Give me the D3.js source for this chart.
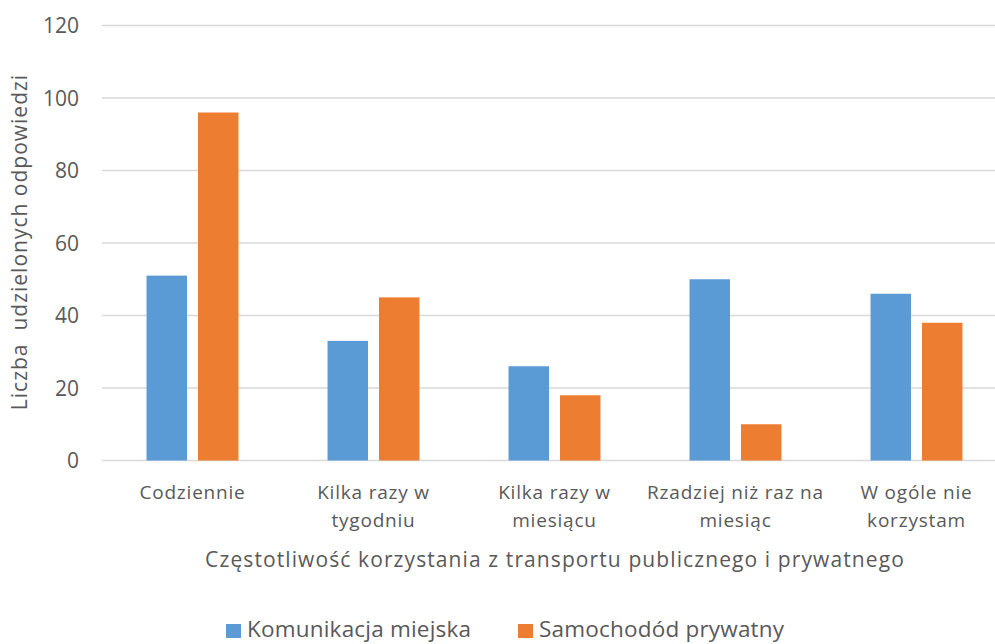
<!DOCTYPE html>
<html lang="pl">
<head>
<meta charset="UTF-8">
<title>Częstotliwość korzystania z transportu</title>
<style>
  body { margin: 0; background: #fff; }
  svg text { font-family: "Open Sans", "Noto Sans", sans-serif; fill: #595959; }
</style>
</head>
<body>
<div id="chart"></div>
<script src="https://d3js.org/d3.v7.min.js"></script>
<script>
// data
var categories = [
  ["Codziennie"],
  ["Kilka razy w", "tygodniu"],
  ["Kilka razy w", "miesiącu"],
  ["Rzadziej niż raz na", "miesiąc"],
  ["W ogóle nie", "korzystam"]
];
var seriesNames = ["Komunikacja miejska", "Samochodód prywatny"];
var komunikacja = [51, 33, 26, 50, 46];
var samochod = [96, 45, 18, 10, 38];
var yTicks = [0, 20, 40, 60, 80, 100, 120];
var colors = ["#5B9BD5", "#ED7D31"];

var width = 995, height = 644;
var plotLeft = 102, plotRight = 1007, plotTop = 25.5, plotBottom = 460.5;

var svg = d3.select("#chart").append("svg")
  .attr("width", width)
  .attr("height", height);

var catKeys = categories.map(function (c) { return c.join(" "); });

var x0 = d3.scaleBand().domain(catKeys).range([plotLeft, plotRight]).padding(0);
var x1 = d3.scaleBand().domain(seriesNames).range([0, x0.bandwidth()])
  .paddingInner(0.214).paddingOuter(0.865);
var y = d3.scaleLinear().domain([0, 120]).range([plotBottom, plotTop]);

// gridlines
svg.append("g")
  .selectAll("line")
  .data(yTicks)
  .join("line")
  .attr("x1", plotLeft)
  .attr("x2", width)
  .attr("y1", function (d) { return y(d); })
  .attr("y2", function (d) { return y(d); })
  .attr("stroke", "#d9d9d9")
  .attr("stroke-width", 1.3);

// y tick labels
svg.append("g")
  .selectAll("text")
  .data(yTicks)
  .join("text")
  .attr("x", 79)
  .attr("y", function (d) { return y(d); })
  .attr("dy", "0.36em")
  .attr("text-anchor", "end")
  .style("font-size", "21px")
  .text(function (d) { return d; });

// bars
var rows = catKeys.map(function (k, i) {
  return { key: k, vals: [komunikacja[i], samochod[i]] };
});

var groups = svg.append("g")
  .selectAll("g")
  .data(rows)
  .join("g")
  .attr("transform", function (d) { return "translate(" + x0(d.key) + ",0)"; });

groups.selectAll("rect")
  .data(function (d) { return d.vals.map(function (v, j) { return { s: seriesNames[j], v: v, j: j }; }); })
  .join("rect")
  .attr("x", function (d) { return x1(d.s); })
  .attr("width", x1.bandwidth())
  .attr("y", function (d) { return y(d.v); })
  .attr("height", function (d) { return y(0) - y(d.v); })
  .attr("fill", function (d) { return colors[d.j]; });

// category labels
var catLabels = svg.append("g")
  .selectAll("text")
  .data(categories)
  .join("text")
  .attr("x", function (d, i) { return x0(catKeys[i]) + x0.bandwidth() / 2; })
  .attr("y", 499)
  .attr("text-anchor", "middle")
  .style("font-size", "19px")
  .style("letter-spacing", "0.8px");

catLabels.selectAll("tspan")
  .data(function (d) { return d; })
  .join("tspan")
  .attr("x", function () { return this.parentNode.getAttribute("x"); })
  .attr("dy", function (d, i) { return i === 0 ? 0 : 28; })
  .text(function (d) { return d; });

// axis titles
svg.append("text")
  .attr("x", 555)
  .attr("y", 567)
  .attr("text-anchor", "middle")
  .style("font-size", "21px")
  .style("letter-spacing", "1.1px")
  .text("Częstotliwość korzystania z transportu publicznego i prywatnego");

svg.append("text")
  .attr("transform", "translate(27,242) rotate(-90)")
  .attr("text-anchor", "middle")
  .style("font-size", "21px")
  .style("letter-spacing", "1px")
  .style("white-space", "pre")
  .text("Liczba  udzielonych odpowiedzi");

// legend
var legendX = [226, 518];
var legend = svg.append("g")
  .selectAll("g")
  .data(seriesNames)
  .join("g")
  .attr("transform", function (d, i) { return "translate(" + legendX[i] + ",624)"; });

legend.append("rect")
  .attr("width", 15)
  .attr("height", 14)
  .attr("fill", function (d, i) { return colors[i]; });

legend.append("text")
  .attr("x", 21)
  .attr("y", 13)
  .style("font-size", "22.5px")
  .style("letter-spacing", "0.2px")
  .text(function (d) { return d; });
</script>
</body>
</html>
